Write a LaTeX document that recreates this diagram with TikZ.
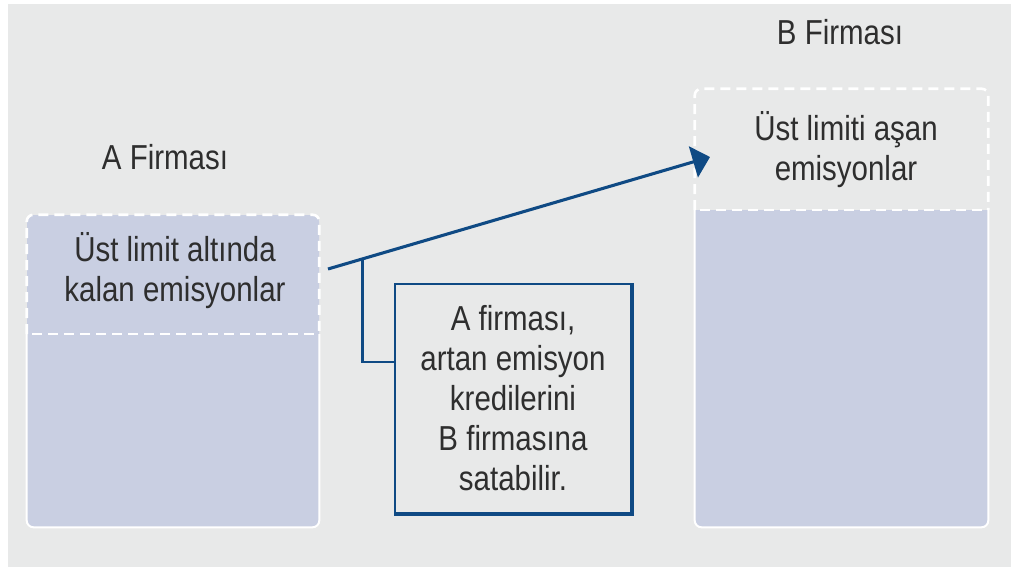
\documentclass[tikz,border=0pt]{standalone}
\usepackage{fontspec}
\setmainfont{Liberation Sans}[FakeStretch=0.85]
\usetikzlibrary{arrows.meta,calc}
\definecolor{bg}{HTML}{E8E9E9}
\definecolor{fillb}{HTML}{C9CFE2}
\definecolor{navy}{HTML}{0F4A84}
\definecolor{txt}{HTML}{2E2E2E}
\begin{document}
\begin{tikzpicture}[x=0.75pt,y=-0.75pt,
  lbl/.style={font=\fontsize{26}{30}\selectfont, text=txt, align=center, inner sep=0pt},
  area/.style={inner sep=0pt, rectangle, rounded corners=5pt},
  dashwhite/.style={draw=white, line width=2pt, dash pattern=on 7.5pt off 4.5pt},
  solidwhite/.style={draw=white, line width=1.5pt},
  conn/.style={draw=navy, line width=2.3pt},
  ]
\useasboundingbox (0,0) rectangle (1011,572);
\fill[white] (0,0) rectangle (1011,572);
\fill[bg] (8,4) rectangle (1011,567);
\coordinate (dA) at (0,334);
\coordinate (dB) at (0,210);
% Box A
\node[area, minimum width=219pt, minimum height=234pt, fill=fillb] (boxA) at (173,371) {};
\draw[dashwhite, rounded corners=5pt] (boxA.west |- dA) -- (boxA.north west) -- (boxA.north east) -- (boxA.east |- dA);
\draw[dashwhite] ([xshift=4pt]boxA.west |- dA) -- ([xshift=-4pt]boxA.east |- dA);
\draw[solidwhite, rounded corners=5pt] (boxA.west |- dA) -- (boxA.south west) -- (boxA.south east) -- (boxA.east |- dA);
\node[lbl] (tA) at (175,271) {Üst limit altında\\kalan emisyonlar};
\node[lbl] (lA) at (165,157) {A Firması};
% Box B
\node[area, minimum width=219.75pt, minimum height=328.5pt] (boxB) at (841.5,308) {};
\begin{scope}
\clip (boxB.west |- dB) rectangle (boxB.south east);
\fill[fillb, rounded corners=5pt] (boxB.north west) rectangle (boxB.south east);
\end{scope}
\draw[dashwhite, rounded corners=5pt] (boxB.west |- dB) -- (boxB.north west) -- (boxB.north east) -- (boxB.east |- dB);
\draw[dashwhite] ([xshift=4pt]boxB.west |- dB) -- ([xshift=-4pt]boxB.east |- dB);
\draw[solidwhite, rounded corners=5pt] (boxB.west |- dB) -- (boxB.south west) -- (boxB.south east) -- (boxB.east |- dB);
\node[lbl] (tB) at (846,150) {Üst limiti aşan\\emisyonlar};
\node[lbl] (lB) at (840,32) {B Firması};
% Note box
\node[lbl, draw=navy, line width=1.6pt, minimum width=177pt, minimum height=171.75pt] (boxC) at (513,398.5) {A firması,\\artan emisyon\\kredilerini\\B firmasına\\satabilir.};
\draw[navy, line width=2.6pt] (boxC.north east) -- (boxC.south east) -- (boxC.south west);
% Arrow
\coordinate (as) at (328,269);
\coordinate (ae) at (710,157);
\draw[conn, -{Triangle[length=13pt,width=24pt]}] (as) -- (ae);
\coordinate (bk) at ($(as)!0.09!(ae)$);
\draw[conn, line width=2pt] (bk) |- (boxC.west |- 0,362);
\end{tikzpicture}
\end{document}
